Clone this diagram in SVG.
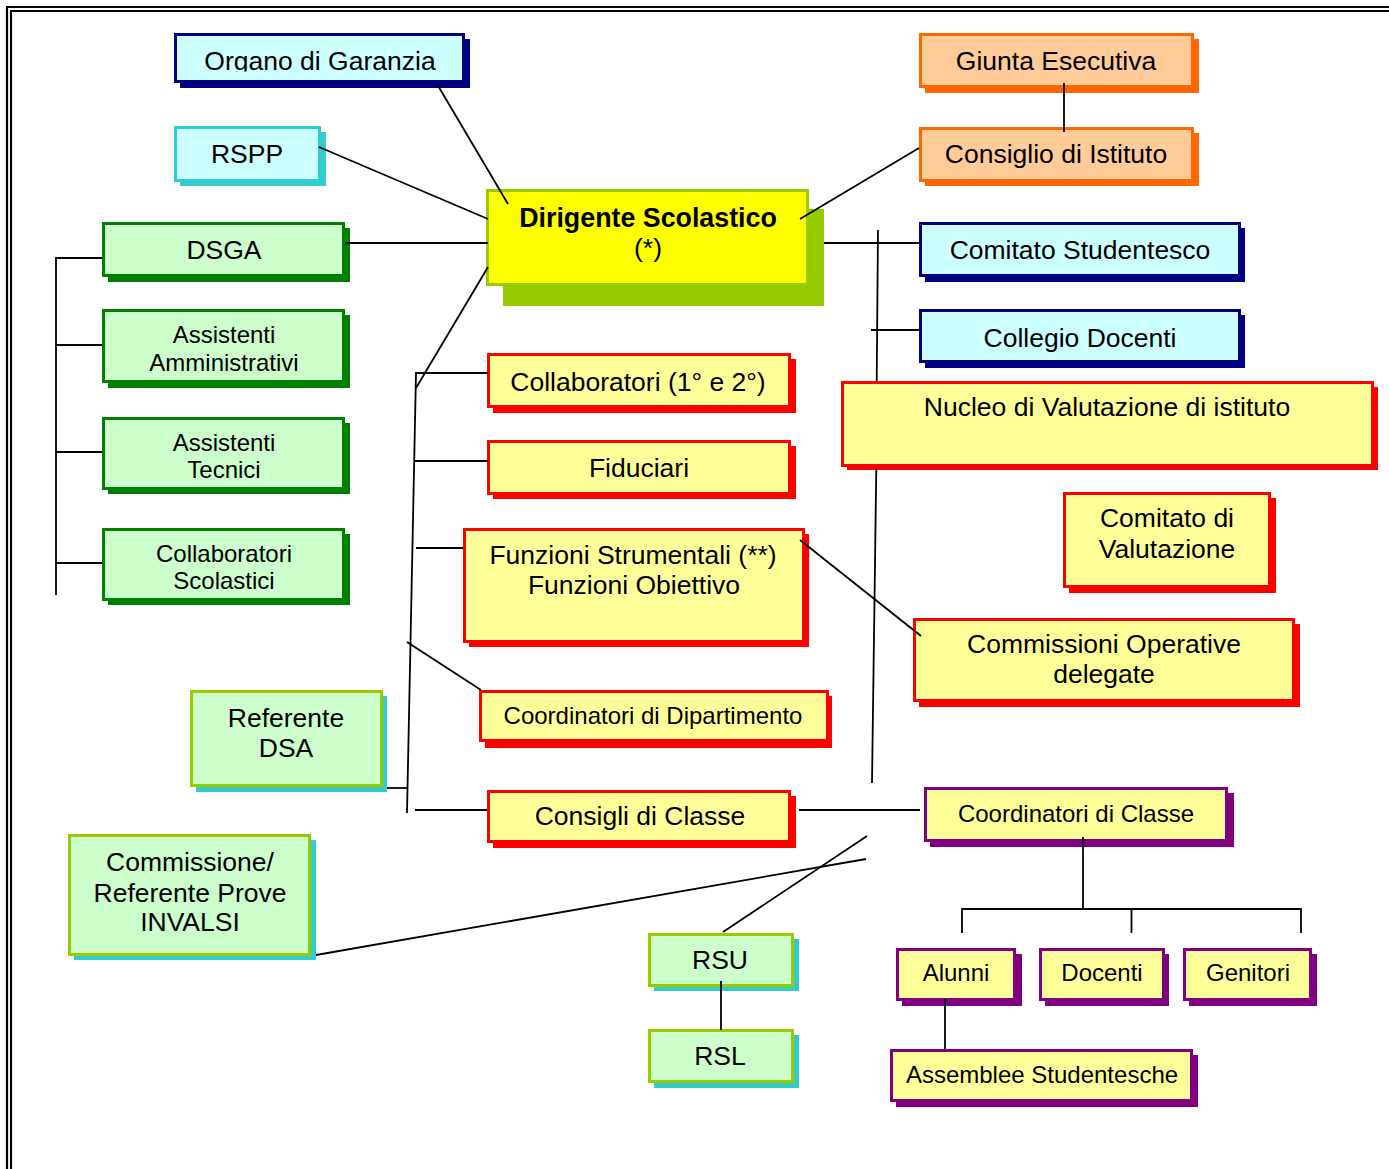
<svg xmlns="http://www.w3.org/2000/svg" width="1389" height="1169" viewBox="0 0 1389 1169">
<style>
text{font-family:"Liberation Sans",Arial,sans-serif;font-size:26.5px;fill:#000;text-anchor:middle}
text.sm{font-size:24px}
text.bd{font-weight:bold;font-size:26.8px}
rect.b{stroke-width:3}
.navy .b{stroke:#000080;fill:#CCFFFF}.navy .s{fill:#000080}
.teal .b{stroke:#33CCCC;fill:#CCFFFF}.teal .s{fill:#33CCCC}
.green .b{stroke:#008000;fill:#CCFFCC}.green .s{fill:#008000}
.lime .b{stroke:#99CC00;fill:#CCFFCC}.lime .s{fill:#33CCCC}
.dir .b{stroke:#99CC00;fill:#FFFF00}.dir .s{fill:#99CC00}
.orange .b{stroke:#FF6600;fill:#FFCC99}.orange .s{fill:#FF6600}
.red .b{stroke:#FF0000;fill:#FFFF99}.red .s{fill:#FF0000}
.purple .b{stroke:#800080;fill:#FFFF99}.purple .s{fill:#800080}
#connectors line,#connectors polyline{stroke:#000;stroke-width:1.8;fill:none}
#frame path{stroke:#000;stroke-width:2.2;fill:none}
</style>
<defs>
<clipPath id="clipOrg"><rect x="174" y="33" width="291" height="38.5"/></clipPath>
</defs>
<rect width="1389" height="1169" fill="#fff"/>
<g id="frame">
<path d="M7,1169 V7 H1389"/>
<path d="M11,1169 V11 H1389"/>
</g>
<g id="nodes">
<g id="organo" class="navy"><rect class="s" x="180" y="39" width="290" height="49"/><rect class="b" x="175.5" y="34.5" width="288" height="47"/><text x="320" y="70" clip-path="url(#clipOrg)">Organo di Garanzia</text></g>
<g id="rspp" class="teal"><rect class="s" x="180" y="132" width="146" height="54"/><rect class="b" x="175.5" y="127.5" width="144" height="53"/><text x="247" y="163">RSPP</text></g>
<g id="dsga" class="green"><rect class="s" x="108" y="228" width="242" height="54"/><rect class="b" x="103.5" y="223.5" width="240" height="52"/><text x="224" y="259">DSGA</text></g>
<g id="ass-amm" class="green"><rect class="s" x="108" y="315" width="242" height="73"/><rect class="b" x="103.5" y="310.5" width="240" height="71"/><text class="sm" x="224" y="343">Assistenti</text><text class="sm" x="224" y="371">Amministrativi</text></g>
<g id="ass-tec" class="green"><rect class="s" x="108" y="423" width="242" height="71"/><rect class="b" x="103.5" y="418.5" width="240" height="70"/><text class="sm" x="224" y="451">Assistenti</text><text class="sm" x="224" y="478">Tecnici</text></g>
<g id="coll-scol" class="green"><rect class="s" x="108" y="534" width="242" height="71"/><rect class="b" x="103.5" y="529.5" width="240" height="70"/><text class="sm" x="224" y="562">Collaboratori</text><text class="sm" x="224" y="589">Scolastici</text></g>
<g id="dirigente" class="dir"><rect class="s" x="503" y="209" width="321" height="97"/><rect class="b" x="487.5" y="190.5" width="320" height="94"/><text class="bd" x="648" y="227">Dirigente Scolastico</text><text x="648" y="257">(*)</text></g>
<g id="giunta" class="orange"><rect class="s" x="925" y="39" width="274" height="54"/><rect class="b" x="920.5" y="34.5" width="272" height="52"/><text x="1056" y="70">Giunta Esecutiva</text></g>
<g id="consiglio-istituto" class="orange"><rect class="s" x="925" y="133" width="274" height="53"/><rect class="b" x="920.5" y="128.5" width="272" height="52"/><text x="1056" y="163">Consiglio di Istituto</text></g>
<g id="comitato-studentesco" class="navy"><rect class="s" x="925" y="228" width="320" height="54"/><rect class="b" x="920.5" y="223.5" width="319" height="52"/><text x="1080" y="259">Comitato Studentesco</text></g>
<g id="collegio-docenti" class="navy"><rect class="s" x="925" y="315" width="320" height="53"/><rect class="b" x="920.5" y="310.5" width="319" height="51"/><text x="1080" y="347">Collegio Docenti</text></g>
<g id="collaboratori" class="red"><rect class="s" x="493" y="359" width="303" height="54"/><rect class="b" x="488.5" y="354.5" width="301" height="52"/><text x="638" y="391">Collaboratori (1° e 2°)</text></g>
<g id="fiduciari" class="red"><rect class="s" x="493" y="446" width="303" height="53"/><rect class="b" x="488.5" y="441.5" width="301" height="52"/><text x="639" y="477">Fiduciari</text></g>
<g id="funzioni" class="red"><rect class="s" x="469" y="534" width="340" height="113"/><rect class="b" x="464.5" y="529.5" width="339" height="112"/><text x="633" y="564">Funzioni Strumentali (**)</text><text x="634" y="594">Funzioni Obiettivo</text></g>
<g id="nucleo" class="red"><rect class="s" x="847" y="387" width="531" height="83"/><rect class="b" x="842.5" y="382.5" width="530" height="83"/><text x="1107" y="416">Nucleo di Valutazione di istituto</text></g>
<g id="comitato-valutazione" class="red"><rect class="s" x="1069" y="498" width="207" height="95"/><rect class="b" x="1064.5" y="493.5" width="205" height="93"/><text x="1167" y="527">Comitato di</text><text x="1167" y="558">Valutazione</text></g>
<g id="commissioni" class="red"><rect class="s" x="919" y="624" width="381" height="83"/><rect class="b" x="914.5" y="619.5" width="379" height="81"/><text x="1104" y="653">Commissioni Operative</text><text x="1104" y="683">delegate</text></g>
<g id="coord-dip" class="red"><rect class="s" x="485" y="696" width="347" height="52"/><rect class="b" x="480.5" y="691.5" width="347" height="49"/><text class="sm" x="653" y="724">Coordinatori di Dipartimento</text></g>
<g id="referente-dsa" class="lime"><rect class="s" x="196" y="696" width="191" height="96"/><rect class="b" x="191.5" y="691.5" width="190" height="94"/><text x="286" y="727">Referente</text><text x="286" y="757">DSA</text></g>
<g id="consigli-classe" class="red"><rect class="s" x="493" y="796" width="303" height="52"/><rect class="b" x="488.5" y="791.5" width="301" height="50"/><text x="640" y="825">Consigli di Classe</text></g>
<g id="invalsi" class="lime"><rect class="s" x="74" y="840" width="242" height="120"/><rect class="b" x="69.5" y="835.5" width="240" height="119"/><text x="190" y="871">Commissione/</text><text x="190" y="902">Referente Prove</text><text x="190" y="931">INVALSI</text></g>
<g id="coord-classe" class="purple"><rect class="s" x="930" y="793" width="304" height="54"/><rect class="b" x="925.5" y="788.5" width="301" height="52"/><text class="sm" x="1076" y="822">Coordinatori di Classe</text></g>
<g id="alunni" class="purple"><rect class="s" x="902" y="954" width="120" height="52"/><rect class="b" x="897.5" y="949.5" width="117" height="50"/><text class="sm" x="956" y="981">Alunni</text></g>
<g id="docenti" class="purple"><rect class="s" x="1045" y="954" width="124" height="52"/><rect class="b" x="1040.5" y="949.5" width="123" height="50"/><text class="sm" x="1102" y="981">Docenti</text></g>
<g id="genitori" class="purple"><rect class="s" x="1189" y="954" width="128" height="52"/><rect class="b" x="1184.5" y="949.5" width="126" height="50"/><text class="sm" x="1248" y="981">Genitori</text></g>
<g id="assemblee" class="purple"><rect class="s" x="896" y="1055" width="302" height="52"/><rect class="b" x="891.5" y="1050.5" width="300" height="50"/><text class="sm" x="1042" y="1083">Assemblee Studentesche</text></g>
<g id="rsu" class="lime"><rect class="s" x="654" y="939" width="145" height="52"/><rect class="b" x="649.5" y="934.5" width="143" height="51"/><text x="720" y="969">RSU</text></g>
<g id="rsl" class="lime"><rect class="s" x="654" y="1035" width="145" height="53"/><rect class="b" x="649.5" y="1030.5" width="143" height="51"/><text x="720" y="1065">RSL</text></g>
</g>
<g id="connectors">
<line x1="437" y1="84" x2="508" y2="204"/>
<line x1="319" y1="147" x2="488" y2="219"/>
<line x1="345" y1="243" x2="488" y2="243"/>
<polyline points="102,258 56,258 56,595"/>
<line x1="56" y1="345" x2="102" y2="345"/>
<line x1="56" y1="452" x2="102" y2="452"/>
<line x1="56" y1="563" x2="102" y2="563"/>
<line x1="488" y1="267" x2="416" y2="388"/>
<polyline points="488,373 416,373 407,813"/>
<line x1="415" y1="461" x2="488" y2="461"/>
<line x1="416" y1="548" x2="463" y2="548"/>
<line x1="407" y1="642" x2="481" y2="690"/>
<line x1="387" y1="788" x2="407" y2="788"/>
<line x1="415" y1="810" x2="487" y2="810"/>
<line x1="800" y1="219" x2="919" y2="148"/>
<line x1="1064" y1="83" x2="1064" y2="132"/>
<line x1="824" y1="243" x2="919" y2="243"/>
<line x1="878" y1="230" x2="876.7" y2="381"/>
<line x1="876.3" y1="468" x2="872" y2="783"/>
<line x1="871" y1="330" x2="919" y2="330"/>
<line x1="800" y1="540" x2="921" y2="636"/>
<line x1="799" y1="810" x2="920" y2="810"/>
<line x1="723" y1="932" x2="867" y2="836"/>
<line x1="316" y1="955" x2="866" y2="859"/>
<line x1="1083" y1="837" x2="1083" y2="909"/>
<polyline points="962,933 962,909 1301,909 1301,933"/>
<line x1="1131.5" y1="909" x2="1131.5" y2="933"/>
<line x1="945" y1="999" x2="945" y2="1049"/>
<line x1="721" y1="981" x2="721" y2="1030"/>
</g>
</svg>
